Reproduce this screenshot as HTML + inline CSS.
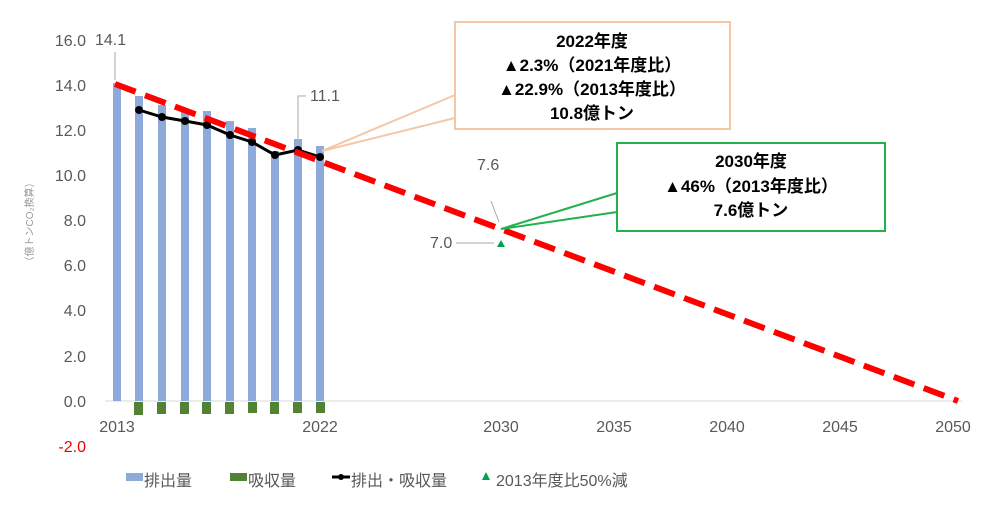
<!DOCTYPE html>
<html><head><meta charset="utf-8"><style>
body{margin:0;background:#fff;width:1000px;height:513px;overflow:hidden}
text{font-family:"Liberation Sans","Noto Sans CJK JP",sans-serif}
</style></head><body>
<svg width="1000" height="513" xmlns="http://www.w3.org/2000/svg">
<g fill="#595959" font-size="16" text-anchor="end">
<text x="86" y="46">16.0</text><text x="86" y="91">14.0</text><text x="86" y="136">12.0</text>
<text x="86" y="181">10.0</text><text x="86" y="226">8.0</text><text x="86" y="271">6.0</text>
<text x="86" y="316">4.0</text><text x="86" y="362">2.0</text><text x="86" y="407">0.0</text>
</g>
<text x="86" y="452" fill="#e00" font-size="16" text-anchor="end">-2.0</text>
<text transform="translate(33,222) rotate(-90)" font-size="10" fill="#999" text-anchor="middle">（億トンCO₂換算）</text>
<line x1="105" y1="401" x2="962" y2="401" stroke="#d9d9d9" stroke-width="1"/>
<g fill="#8eaadb">
<rect x="113" y="83" width="8" height="318"/><rect x="135" y="96" width="8" height="305"/>
<rect x="158" y="105" width="8" height="296"/><rect x="181" y="110" width="8" height="291"/>
<rect x="203" y="111" width="8" height="290"/><rect x="226" y="121" width="8" height="280"/>
<rect x="248" y="128" width="8" height="273"/><rect x="271" y="151" width="8" height="250"/>
<rect x="294" y="139" width="8" height="262"/><rect x="316" y="146" width="8" height="255"/>
</g>
<g fill="#548235">
<rect x="134" y="402" width="9" height="13"/><rect x="157" y="402" width="9" height="12"/>
<rect x="180" y="402" width="9" height="12"/><rect x="202" y="402" width="9" height="12"/>
<rect x="225" y="402" width="9" height="12"/><rect x="248" y="402" width="9" height="11"/>
<rect x="270" y="402" width="9" height="12"/><rect x="293" y="402" width="9" height="11"/>
<rect x="316" y="402" width="9" height="11"/>
</g>
<polyline points="139,110 162,117 185,121 207,125 230,135 252,142 275,155 298,150 320,157" fill="none" stroke="#000" stroke-width="3"/>
<g fill="#000">
<circle cx="139" cy="110" r="4"/><circle cx="162" cy="117" r="4"/><circle cx="185" cy="121" r="4"/>
<circle cx="207" cy="125" r="4"/><circle cx="230" cy="135" r="4"/><circle cx="252" cy="142" r="4"/>
<circle cx="275" cy="155" r="4"/><circle cx="298" cy="150" r="4"/><circle cx="320" cy="157" r="4"/>
</g>
<line x1="115" y1="84" x2="958" y2="401" stroke="#f00" stroke-width="6" stroke-dasharray="22,10"/>
<polygon points="501,240 497,247 505,247" fill="#00a050"/>
<g fill="#595959" font-size="16">
<text x="95" y="45">14.1</text><text x="310" y="101">11.1</text>
<text x="477" y="170">7.6</text><text x="430" y="248">7.0</text>
</g>
<g stroke="#aaa" stroke-width="1" fill="none">
<polyline points="115,80 115,52"/><polyline points="298,146 298,96 306,96"/>
<line x1="491" y1="201" x2="499" y2="222"/><line x1="456" y1="243" x2="494" y2="243"/>
</g>
<polygon points="455,95 322,151 455,118" fill="#fff" stroke="#f4c7a6" stroke-width="2"/>
<rect x="455" y="22" width="275" height="107" fill="#fff" stroke="#f4c7a6" stroke-width="2"/>
<polygon points="617,193 501,229 617,212" fill="#fff" stroke="#22b14c" stroke-width="2"/>
<rect x="617" y="143" width="268" height="88" fill="#fff" stroke="#22b14c" stroke-width="2"/>
<g font-size="17" font-weight="bold" fill="#000" text-anchor="middle">
<text x="592" y="47">2022年度</text>
<text x="592" y="71">▲2.3%（2021年度比）</text>
<text x="592" y="95">▲22.9%（2013年度比）</text>
<text x="592" y="119">10.8億トン</text>
<text x="751" y="167">2030年度</text>
<text x="751" y="192">▲46%（2013年度比）</text>
<text x="751" y="216">7.6億トン</text>
</g>
<g fill="#595959" font-size="16" text-anchor="middle">
<text x="117" y="432">2013</text><text x="320" y="432">2022</text><text x="501" y="432">2030</text>
<text x="614" y="432">2035</text><text x="727" y="432">2040</text><text x="840" y="432">2045</text>
<text x="953" y="432">2050</text>
</g>
<g font-size="16" fill="#595959">
<rect x="126" y="473" width="17" height="8" fill="#8eaadb"/><text x="144" y="486">排出量</text>
<rect x="230" y="473" width="17" height="8" fill="#548235"/><text x="248" y="486">吸収量</text>
<line x1="332" y1="477" x2="350" y2="477" stroke="#000" stroke-width="3"/><circle cx="341" cy="477" r="3" fill="#000"/>
<text x="351" y="486">排出・吸収量</text>
<polygon points="486,472 482,480 490,480" fill="#00a050"/><text x="496" y="486">2013年度比50%減</text>
</g>
</svg>
</body></html>
